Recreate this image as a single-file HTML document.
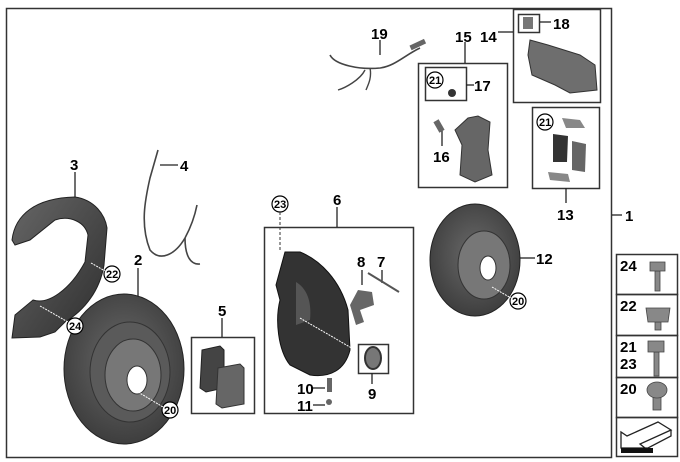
<!DOCTYPE html>
<html><head><meta charset="utf-8"><style>
html,body{margin:0;padding:0;background:#fff}
svg{display:block}
text{font-family:"Liberation Sans",Arial,sans-serif;font-weight:bold;fill:#000}
.n{font-size:15px}
.c{font-size:11px}
</style></head><body>
<svg width="680" height="462" viewBox="0 0 680 462" xmlns="http://www.w3.org/2000/svg">
<defs>
<radialGradient id="dg" cx="50%" cy="45%" r="60%"><stop offset="0" stop-color="#6a6a6a"/><stop offset="1" stop-color="#3a3a3a"/></radialGradient>
<linearGradient id="sg" x1="0" y1="0" x2="1" y2="1"><stop offset="0" stop-color="#666"/><stop offset="1" stop-color="#2e2e2e"/></linearGradient>
</defs>
<g fill="none" stroke="#333" stroke-width="1.5">
<rect x="6.5" y="8.5" width="605" height="449"/>
<rect x="513.5" y="9.5" width="87" height="93"/>
<rect x="518.5" y="14.5" width="21" height="18"/>
<rect x="418.5" y="63.5" width="89" height="124"/>
<rect x="425.5" y="67.5" width="41" height="33"/>
<rect x="532.5" y="107.5" width="67" height="81"/>
<rect x="264.5" y="227.5" width="149" height="186"/>
<rect x="191.5" y="337.5" width="63" height="76"/>
<rect x="358.5" y="344.5" width="30" height="29"/>
<rect x="616.5" y="254.5" width="61" height="40"/>
<rect x="616.5" y="294.5" width="61" height="41"/>
<rect x="616.5" y="335.5" width="61" height="42"/>
<rect x="616.5" y="377.5" width="61" height="40"/>
<rect x="616.5" y="417.5" width="61" height="39"/>
</g>
<g stroke="#222" stroke-width="1.3" fill="none">
<line x1="612" y1="215" x2="622" y2="215"/>
<line x1="380" y1="40" x2="380" y2="55"/>
<line x1="465" y1="42" x2="465" y2="63"/>
<line x1="498" y1="32" x2="513" y2="32"/>
<line x1="540" y1="22" x2="551" y2="22"/>
<line x1="466" y1="85" x2="474" y2="85"/>
<line x1="442" y1="146" x2="442" y2="128"/>
<line x1="566" y1="188" x2="566" y2="203"/>
<line x1="75" y1="172" x2="75" y2="198"/>
<line x1="160" y1="165" x2="178" y2="165"/>
<line x1="337" y1="207" x2="337" y2="227"/>
<line x1="138" y1="268" x2="138" y2="296"/>
<line x1="520" y1="258" x2="535" y2="258"/>
<line x1="222" y1="318" x2="222" y2="337"/>
<line x1="362" y1="270" x2="362" y2="285"/>
<line x1="382" y1="270" x2="382" y2="283"/>
<line x1="372" y1="373" x2="372" y2="384"/>
<line x1="313" y1="388" x2="325" y2="388"/>
<line x1="313" y1="405" x2="325" y2="405"/>
</g>
<path d="M12,240 C15,215 35,198 75,197 C95,200 105,215 107,228 L104,265 C100,290 85,310 65,322 L55,332 L40,337 L12,338 L15,315 L33,300 C48,305 70,290 85,262 L88,235 C85,222 70,215 55,220 L30,240 L15,245 Z" fill="url(#sg)" stroke="#222"/>
<path d="M158,150 L150,178 C145,200 140,225 150,250 C160,262 175,255 185,238 C192,225 195,215 197,205" fill="none" stroke="#444" stroke-width="1.6"/>
<path d="M185,238 C185,255 190,265 200,264" fill="none" stroke="#444" stroke-width="1.6"/>
<path d="M330,55 C335,65 360,70 380,68 C395,66 405,55 420,48" fill="none" stroke="#444" stroke-width="1.6"/>
<path d="M365,70 C360,80 345,88 338,90 M370,68 C372,78 368,85 366,90" fill="none" stroke="#444" stroke-width="1.4"/>
<rect x="410" y="42" width="16" height="5" fill="#666" transform="rotate(-25 418 45)"/>
<ellipse cx="124" cy="369" rx="60" ry="75" fill="url(#dg)" stroke="#222"/>
<ellipse cx="130" cy="372" rx="40" ry="50" fill="#5a5a5a" stroke="#333"/>
<ellipse cx="133" cy="375" rx="28" ry="36" fill="#777" stroke="#333"/>
<ellipse cx="137" cy="380" rx="10" ry="14" fill="#fff" stroke="#333"/>
<ellipse cx="475" cy="260" rx="45" ry="56" fill="url(#dg)" stroke="#222"/>
<ellipse cx="484" cy="265" rx="26" ry="34" fill="#777" stroke="#333"/>
<ellipse cx="488" cy="268" rx="8" ry="12" fill="#fff" stroke="#333"/>
<path d="M285,252 L300,252 C320,260 340,280 348,310 L350,350 C345,370 330,378 310,375 L290,365 C278,350 275,320 280,300 L276,285 Z" fill="#333" stroke="#111"/>
<path d="M296,282 C306,288 312,300 310,320 L296,325 Z" fill="#555"/>
<path d="M358,290 L372,292 L374,305 L360,310 L364,322 L356,325 L350,305 Z" fill="#666"/>
<line x1="368" y1="273" x2="399" y2="292" stroke="#555" stroke-width="2"/>
<ellipse cx="373" cy="358" rx="8" ry="11" fill="#777" stroke="#333" stroke-width="2"/>
<rect x="327" y="378" width="5" height="14" fill="#666"/>
<circle cx="329" cy="402" r="3" fill="#666"/>
<path d="M202,350 L220,346 L224,350 L224,388 L206,392 L200,388 Z" fill="#444" stroke="#222"/>
<path d="M218,368 L240,364 L244,368 L244,404 L222,408 L216,404 Z" fill="#666" stroke="#333"/>
<path d="M468,118 L478,116 L490,122 L488,150 L492,175 L475,182 L460,175 L462,145 L455,130 Z" fill="#666" stroke="#333"/>
<circle cx="452" cy="93" r="4" fill="#333"/>
<rect x="436" y="120" width="6" height="12" fill="#666" transform="rotate(-30 439 126)"/>
<path d="M530,40 L548,45 L580,55 L595,65 L597,90 L570,93 L555,85 L532,75 L528,55 Z" fill="#6e6e6e" stroke="#333"/>
<rect x="523" y="17" width="10" height="12" fill="#777"/>
<path d="M553,134 L568,136 L567,162 L553,162 Z" fill="#333"/>
<path d="M572,141 L586,144 L585,172 L572,170 Z" fill="#666"/>
<path d="M562,118 L580,120 L585,128 L566,128 Z" fill="#888"/>
<path d="M548,172 L568,174 L570,182 L550,180 Z" fill="#888"/>
<g fill="#888" stroke="#444" stroke-width="0.8">
<rect x="655" y="271" width="5" height="20"/><path d="M650,262 L665,262 L665,271 L650,271 Z"/>
<rect x="655" y="322" width="6" height="8"/><path d="M646,308 L670,308 L668,322 L648,322 Z"/>
<rect x="654" y="352" width="5" height="24"/><path d="M648,341 L664,341 L664,352 L648,352 Z"/>
<rect x="653" y="397" width="8" height="13"/><ellipse cx="657" cy="390" rx="10" ry="8"/>
</g>
<path d="M621,448 L621,432 L627,436 L658,422 L671,430 L640,444 L645,448 Z" fill="#fff" stroke="#222" stroke-width="1.3"/>
<path d="M671,430 L671,436 L648,448 L645,448" fill="none" stroke="#222" stroke-width="1.3"/>
<rect x="621" y="448" width="32" height="5" fill="#111"/>
<text class="n" x="371" y="39">19</text>
<text class="n" x="455" y="42">15</text>
<text class="n" x="480" y="42">14</text>
<text class="n" x="553" y="29">18</text>
<text class="n" x="474" y="91">17</text>
<text class="n" x="433" y="162">16</text>
<text class="n" x="557" y="220">13</text>
<text class="n" x="625" y="221">1</text>
<text class="n" x="70" y="170">3</text>
<text class="n" x="180" y="171">4</text>
<text class="n" x="333" y="205">6</text>
<text class="n" x="134" y="265">2</text>
<text class="n" x="536" y="264">12</text>
<text class="n" x="218" y="316">5</text>
<text class="n" x="357" y="267">8</text>
<text class="n" x="377" y="267">7</text>
<text class="n" x="368" y="399">9</text>
<text class="n" x="297" y="394">10</text>
<text class="n" x="297" y="411">11</text>
<text class="n" x="620" y="271">24</text>
<text class="n" x="620" y="311">22</text>
<text class="n" x="620" y="352">21</text>
<text class="n" x="620" y="369">23</text>
<text class="n" x="620" y="394">20</text>
<g fill="#fff" stroke="#000" stroke-width="1.2">
<circle cx="435" cy="80" r="8"/><circle cx="545" cy="122" r="8"/><circle cx="280" cy="204" r="8"/>
<circle cx="112" cy="274" r="8"/><circle cx="75" cy="326" r="8"/><circle cx="170" cy="410" r="8"/><circle cx="518" cy="301" r="8"/>
</g>
<text class="c" x="429" y="84">21</text><text class="c" x="539" y="126">21</text><text class="c" x="274" y="208">23</text>
<text class="c" x="106" y="278">22</text><text class="c" x="69" y="330">24</text><text class="c" x="164" y="414">20</text><text class="c" x="512" y="305">20</text>
<g stroke="#fff" stroke-width="1" stroke-dasharray="2,1" fill="none">
<line x1="91" y1="263" x2="105" y2="271"/><line x1="40" y1="306" x2="68" y2="322"/><line x1="138" y1="392" x2="163" y2="407"/>
<line x1="492" y1="287" x2="511" y2="298"/><line x1="300" y1="318" x2="355" y2="350"/>
</g>
<line x1="280" y1="212" x2="280" y2="250" stroke="#333" stroke-dasharray="3,2"/>
</svg>
</body></html>
